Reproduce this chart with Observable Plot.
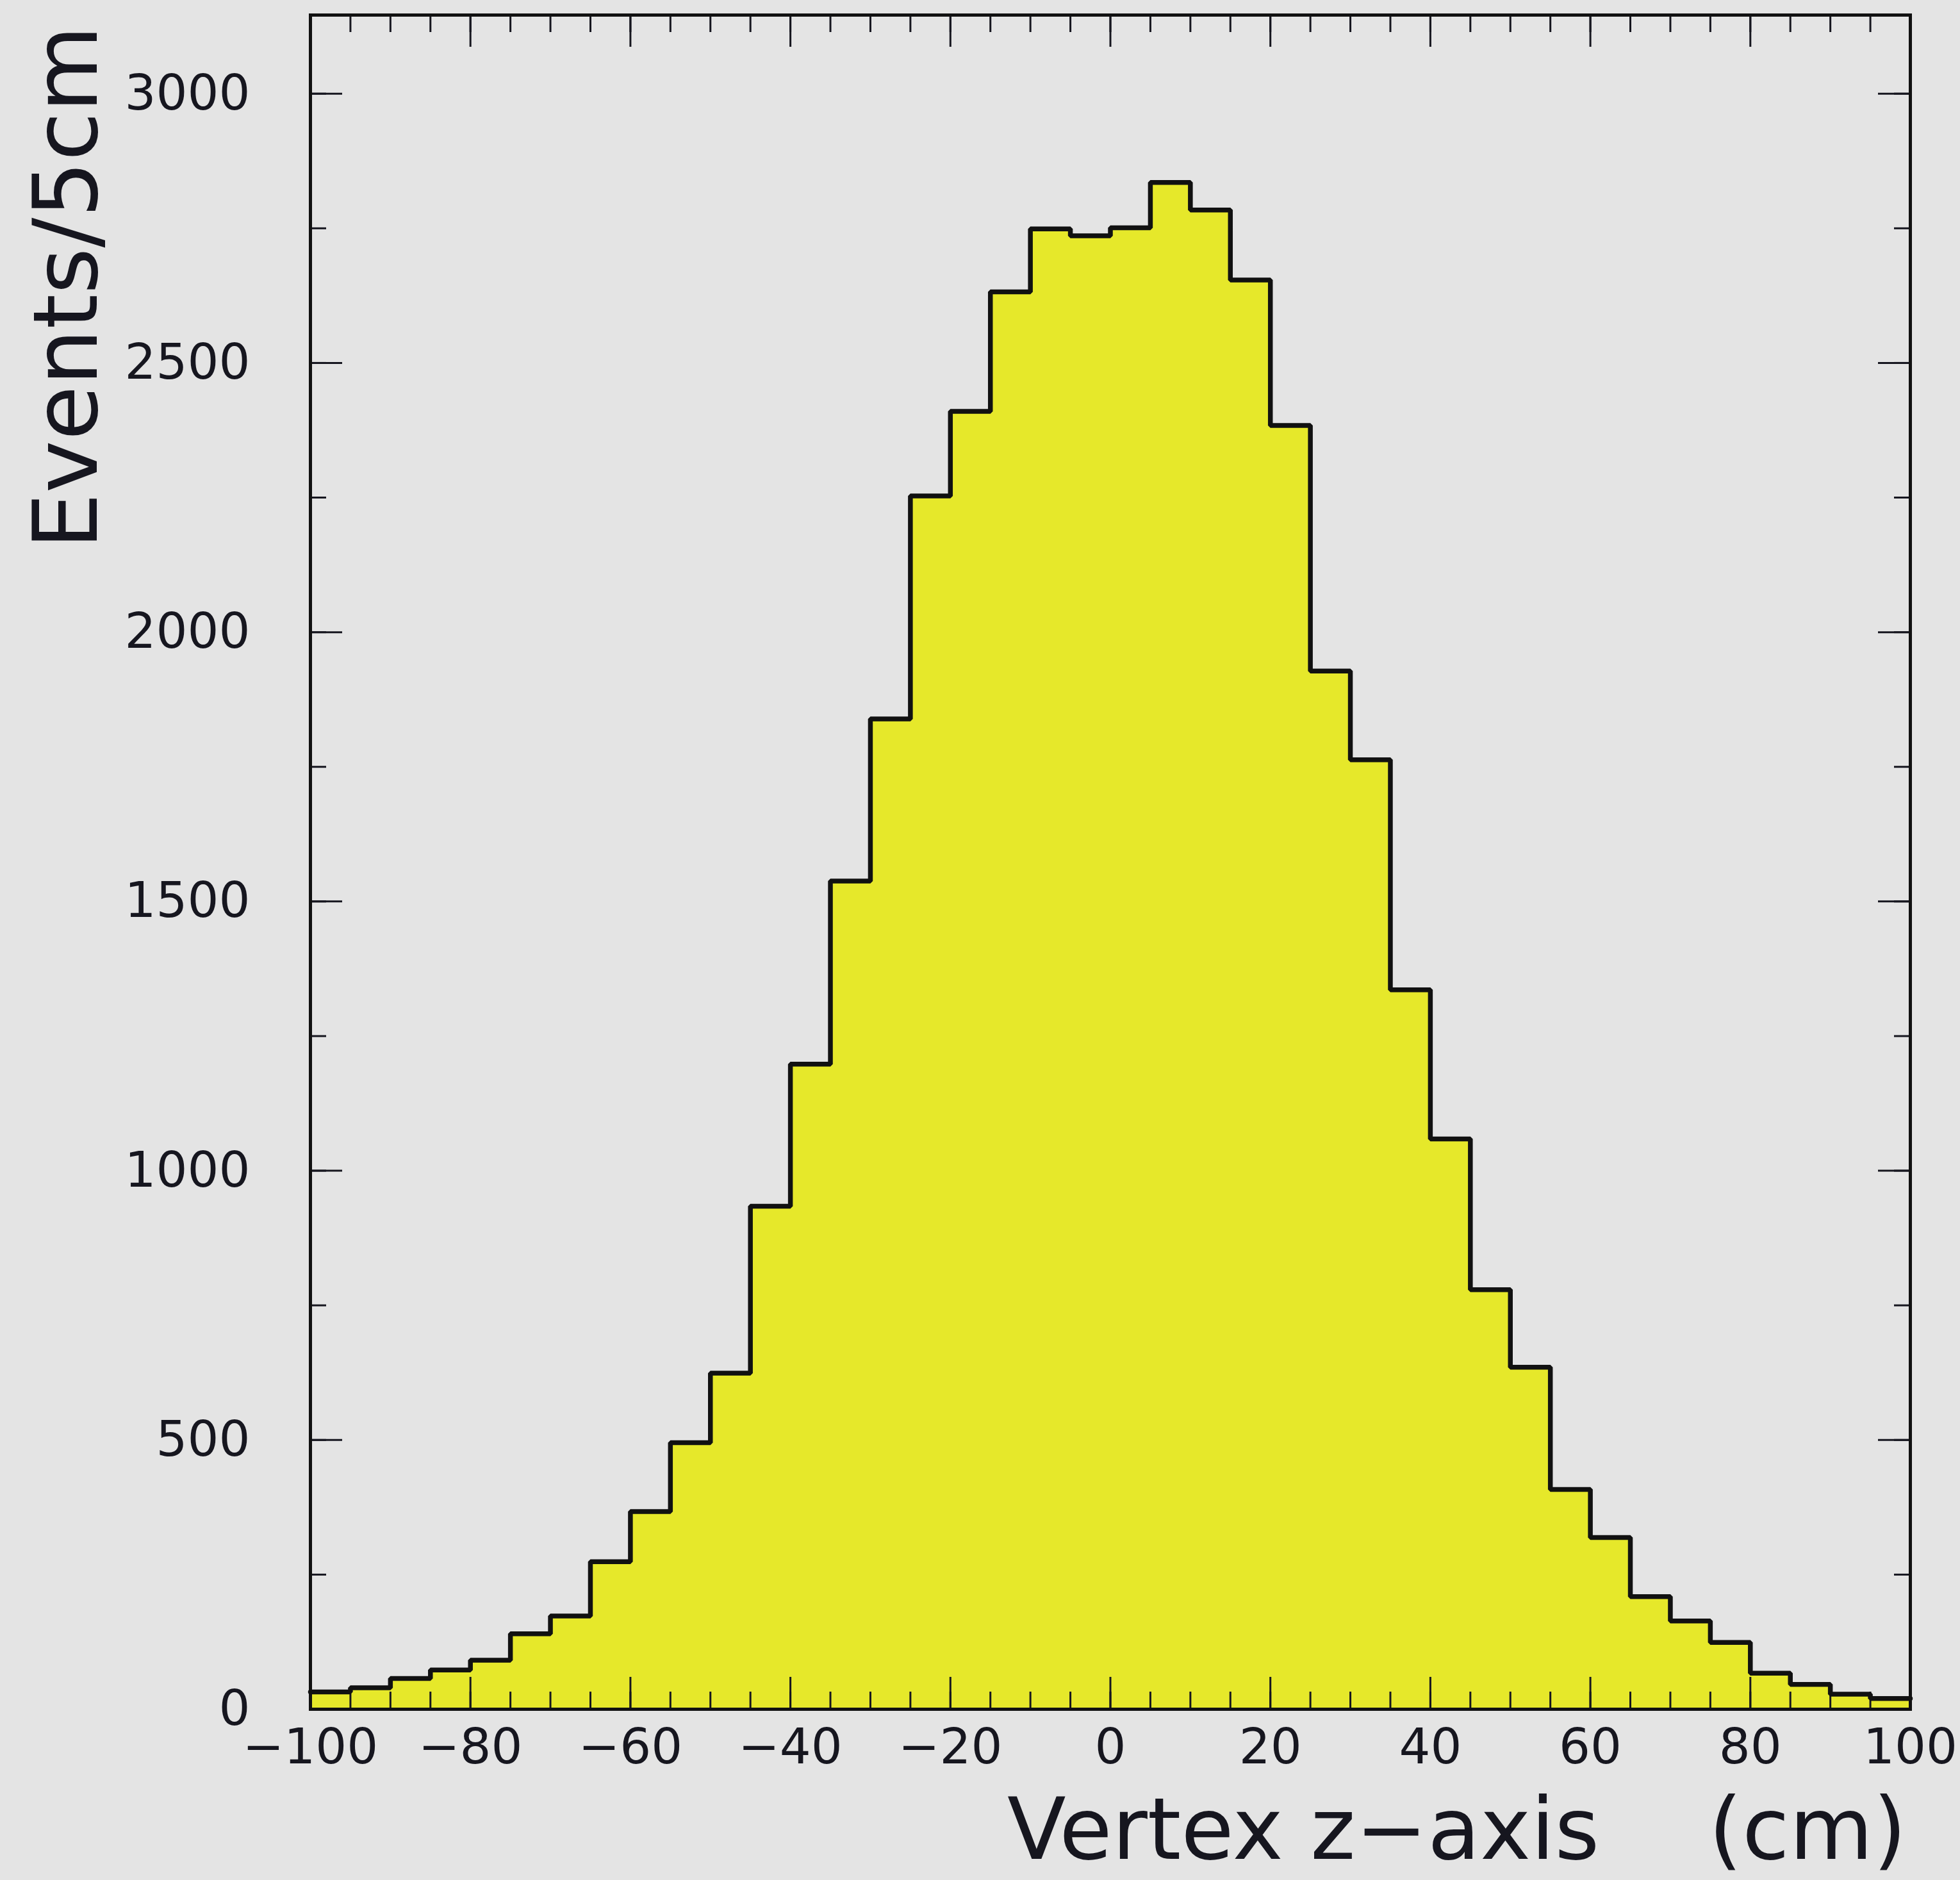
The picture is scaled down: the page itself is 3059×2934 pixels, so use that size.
<!DOCTYPE html>
<html>
<head>
<meta charset="utf-8">
<script src="https://cdn.jsdelivr.net/npm/d3@7"></script>
<script src="https://cdn.jsdelivr.net/npm/@observablehq/plot@0.6"></script>
<style>
  html, body { margin: 0; padding: 0; background: #e4e4e4; }
  #chart { width: 3059px; height: 2934px; }
</style>
</head>
<body>
<div id="chart"></div>
<script>
// Histogram: bin lower edges (cm) and counts (Events / 5 cm)
const binWidth = 5;
const binLow = [-100, -95, -90, -85, -80, -75, -70, -65, -60, -55,
                -50, -45, -40, -35, -30, -25, -20, -15, -10, -5,
                0, 5, 10, 15, 20, 25, 30, 35, 40, 45,
                50, 55, 60, 65, 70, 75, 80, 85, 90, 95];
const counts = [32, 40, 57, 73, 91, 140, 173, 274, 367, 495,
                624, 934, 1198, 1538, 1839, 2253, 2410, 2632, 2749, 2736,
                2751, 2835, 2784, 2654, 2384, 1928, 1763, 1336, 1059, 779,
                635, 408, 319, 209, 164, 124, 67, 46, 28, 20];

const xTicksMajor = [-100, -80, -60, -40, -20, 0, 20, 40, 60, 80, 100];
const xTicksMinor = d3.range(-100, 100.1, 5);
const yTicksMajor = [0, 500, 1000, 1500, 2000, 2500, 3000];
const yTicksMinor = d3.range(0, 3001, 250);

const xTitle = "Vertex z\u2212axis\u00a0\u00a0\u00a0\u00a0(cm)";
const yTitle = "Events/5cm";

const W = 3059, H = 2934;
const mL = 484, mR = 78, mT = 23, mB = 267;
const pw = W - mL - mR, ph = H - mT - mB;

const pts = binLow.map((x, i) => ({x, y: counts[i]}));
pts.push({x: binLow[binLow.length - 1] + binWidth, y: counts[counts.length - 1]});

const ink = "#16161f";
const font = "DejaVu Sans";
const minus = d => d < 0 ? "\u2212" + (-d) : String(d);

const chart = Plot.plot({
  width: W, height: H,
  marginLeft: mL, marginRight: mR, marginTop: mT, marginBottom: mB,
  style: {background: "#e4e4e4", fontFamily: font, fontSize: "77px", color: ink},
  x: {domain: [-100, 100], axis: null},
  y: {domain: [0, 3146], axis: null},
  marks: [
    Plot.areaY(pts, {x: "x", y: "y", curve: "step-after", fill: "#e6e82a"}),
    // inner ticks: bottom / top
    Plot.ruleX(xTicksMinor, {stroke: ink, strokeWidth: 3, insetTop: ph - 27}),
    Plot.ruleX(xTicksMajor, {stroke: ink, strokeWidth: 3, insetTop: ph - 50}),
    Plot.ruleX(xTicksMinor, {stroke: ink, strokeWidth: 3, insetBottom: ph - 27}),
    Plot.ruleX(xTicksMajor, {stroke: ink, strokeWidth: 3, insetBottom: ph - 50}),
    // inner ticks: left / right
    Plot.ruleY(yTicksMinor, {stroke: ink, strokeWidth: 3, insetRight: pw - 25}),
    Plot.ruleY(yTicksMajor, {stroke: ink, strokeWidth: 3, insetRight: pw - 50}),
    Plot.ruleY(yTicksMinor, {stroke: ink, strokeWidth: 3, insetLeft: pw - 25}),
    Plot.ruleY(yTicksMajor, {stroke: ink, strokeWidth: 3, insetLeft: pw - 50}),
    Plot.line(pts, {x: "x", y: "y", curve: "step-after", stroke: "#111", strokeWidth: 7.5, strokeLinejoin: "miter"}),
    Plot.frame({stroke: "#111", strokeWidth: 5}),
    Plot.axisX(xTicksMajor, {anchor: "bottom", label: null, tickSize: 0, tickPadding: 30, tickFormat: minus,
      fontSize: 77, fill: ink, fontFamily: font}),
    Plot.axisY(yTicksMajor, {anchor: "left", label: null, tickSize: 0, tickPadding: 94, tickFormat: d => String(d),
      fontSize: 77, fill: ink, fontFamily: font}),
    Plot.text([yTitle], {frameAnchor: "top-left", rotate: -90, textAnchor: "end",
      dx: -432, dy: 16, fontSize: 139, fill: ink, fontFamily: font}),
    Plot.text([xTitle], {frameAnchor: "bottom-right", textAnchor: "end",
      dx: -6, dy: 233, fontSize: 134, fill: ink, fontFamily: font})
  ]
});
document.getElementById("chart").appendChild(chart);
</script>
</body>
</html>
